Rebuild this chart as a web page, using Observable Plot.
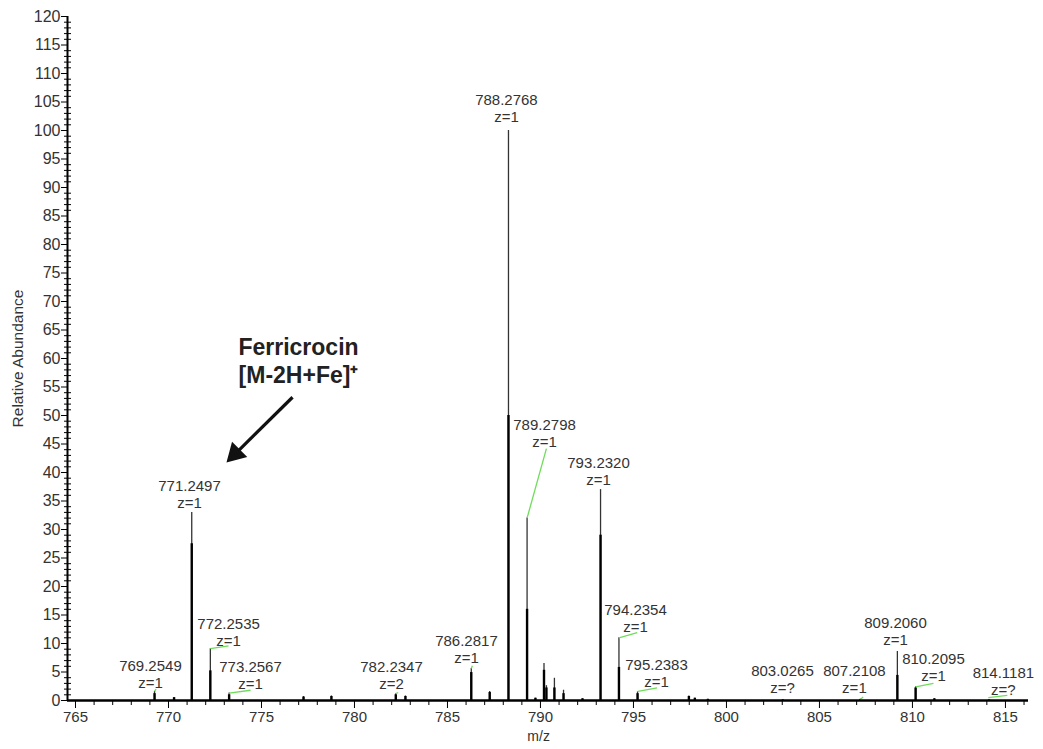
<!DOCTYPE html>
<html><head><meta charset="utf-8">
<script src="https://cdn.jsdelivr.net/npm/d3@7"></script>
<script src="https://cdn.jsdelivr.net/npm/@observablehq/plot@0.6"></script>
<style>html,body{margin:0;padding:0;background:#fff}#chart svg{display:block}</style>
</head><body><div id="chart"></div>
<script>
// ---- Spectrum sticks (m/z, apex abundance, dense core abundance) ----
const peakMz   = [769.25, 770.30, 771.25, 772.25, 773.26, 777.26, 778.76, 782.22, 782.74, 786.28, 787.27, 788.28, 789.28, 789.73, 790.19, 790.32, 790.75, 791.24, 792.26, 793.23, 794.22, 795.22, 797.98, 798.30, 799.00, 803.03, 807.21, 809.19, 810.17, 811.18, 814.12];
const peakTop  = [1.6, 0.5, 33.0, 9.1, 1.3, 0.7, 0.8, 1.2, 0.8, 5.6, 1.6, 100.0, 32.0, 0.4, 6.5, 2.6, 3.9, 1.8, 0.3, 37.0, 11.0, 1.5, 0.8, 0.4, 0.2, 0.1, 0.2, 8.6, 2.4, 0.3, 0.1];
const peakCore = [1.2, 0.5, 27.5, 5.2, 1.0, 0.6, 0.7, 1.0, 0.7, 4.9, 1.4, 50.0, 16.0, 0.4, 5.3, 2.2, 2.2, 1.2, 0.3, 29.0, 5.8, 1.2, 0.7, 0.4, 0.2, 0.1, 0.2, 4.4, 2.2, 0.3, 0.1];

// ---- Peak labels ----
const labelMass   = ["769.2549", "771.2497", "772.2535", "773.2567", "782.2347", "786.2817", "788.2768", "789.2798", "793.2320", "794.2354", "795.2383", "803.0265", "807.2108", "809.2060", "810.2095", "814.1181"];
const labelCharge = ["z=1", "z=1", "z=1", "z=1", "z=2", "z=1", "z=1", "z=1", "z=1", "z=1", "z=1", "z=?", "z=1", "z=1", "z=1", "z=?"];
const labelMz     = [769.03, 771.13, 773.23, 774.41, 781.99, 786.02, 788.17, 790.22, 793.12, 795.11, 796.24, 803.01, 806.88, 809.09, 811.13, 814.89];
const labelAbund  = [2.98, 34.6, 10.35, 2.8, 2.8, 7.37, 102.3, 45.3, 38.6, 12.8, 3.16, 2.1, 2.1, 10.5, 4.2, 1.75];

// ---- Green leader lines (peak apex -> label) ----
const leaderFromMz = [769.25, 772.25, 773.26, 782.22, 786.28, 789.28, 794.22, 795.24, 807.21, 810.17, 814.08];
const leaderFromY  = [1.6, 9.1, 1.3, 1.2, 5.6, 32.0, 11.0, 1.6, 0.2, 2.4, 0.5];
const leaderToMz   = [769.33, 773.23, 774.41, 782.35, 786.34, 790.32, 795.20, 796.27, 807.35, 811.13, 815.10];
const leaderToY    = [2.0, 9.6, 1.8, 1.4, 6.1, 44.2, 11.9, 2.2, 0.6, 3.0, 0.9];

// ---- Annotation ----
const noteLines = ["Ferricrocin", "[M-2H+Fe]\u207A"];
const noteMz = 776.99;
const noteY = [61.9, 57.0];
const arrowFrom = [776.67, 53.2];
const arrowHead = [773.59, 43.28];

// ---- Axes ----
const xDomain = [764.57, 816.24];
const yDomain = [0, 120];
const xMajor = d3.range(765, 816, 5);
const xMinor = d3.range(765, 817, 1).filter(v => v % 5 !== 0);
const yMajor = d3.range(0, 121, 5);
const yMinor = d3.range(0, 121, 1).filter(v => v % 5 !== 0);

const peaks = peakMz.map((mz, i) => ({mz, top: peakTop[i], core: peakCore[i]}));
const labels = labelMass.map((m, i) => ({mass: m, z: labelCharge[i], x: labelMz[i], y: labelAbund[i]}));
const leaders = leaderFromMz.map((m, i) => ({x1: m, y1: leaderFromY[i], x2: leaderToMz[i], y2: leaderToY[i]}));
const notes = noteLines.map((t, i) => ({t, x: noteMz, y: noteY[i]}));

const font = "Liberation Sans, Arial, Helvetica, sans-serif";

const chart = Plot.plot({
  width: 1043,
  height: 749,
  marginLeft: 67,
  marginRight: 15,
  marginTop: 16,
  marginBottom: 49,
  style: {fontFamily: font, background: "#fff", color: "#333"},
  x: {domain: xDomain},
  y: {domain: yDomain},
  marks: [
    Plot.axisX({ticks: xMajor, tickSize: 8, tickPadding: 3, fontSize: 15, label: null, stroke: "#000", fill: "#333"}),
    Plot.axisX({ticks: xMinor, tickSize: 5, text: null, label: null, stroke: "#000"}),
    Plot.axisY({ticks: yMajor, tickSize: 6, tickPadding: 1, fontSize: 16, label: null, stroke: "#000", fill: "#333"}),
    Plot.axisY({ticks: yMinor, tickSize: 7, dx: 4, text: null, label: null, stroke: "#000"}),
    Plot.ruleX([xDomain[0]], {y1: 0, y2: 120, stroke: "#000", strokeWidth: 2}),
    Plot.ruleX(peaks, {x: "mz", y1: 0, y2: "top", stroke: "#333", strokeWidth: 1.3}),
    Plot.ruleX(peaks, {x: "mz", y1: 0, y2: "core", stroke: "#000", strokeWidth: 2.4}),
    Plot.ruleY([0], {stroke: "#000", strokeWidth: 2.5}),
    Plot.link(leaders, {x1: "x1", y1: "y1", x2: "x2", y2: "y2", stroke: "#6fdc5a", strokeWidth: 1.3}),
    Plot.text(labels, {x: "x", y: "y", text: "mass", dy: -17, fontSize: 15, fill: "#333"}),
    Plot.text(labels, {x: "x", y: "y", text: "z", fontSize: 15, fill: "#333"}),
    Plot.text(notes, {x: "x", y: "y", text: "t", fontSize: 23, fontWeight: "bold", fill: "#222"}),
    Plot.link([{x1: arrowFrom[0], y1: arrowFrom[1], x2: arrowHead[0], y2: arrowHead[1]}], {x1: "x1", y1: "y1", x2: "x2", y2: "y2", stroke: "#111", strokeWidth: 3.2}),
    Plot.dot([{x: arrowHead[0], y: arrowHead[1]}], {x: "x", y: "y", symbol: "triangle", r: 8, fill: "#111", stroke: "none", rotate: 225}),
    Plot.text(["Relative Abundance"], {frameAnchor: "left", textAnchor: "middle", dx: -49, rotate: -90, fontSize: 15.5, fill: "#333"}),
    Plot.text(["m/z"], {x: [789.9], frameAnchor: "bottom", dy: 40, fontSize: 14, fill: "#333"})
  ]
});
document.getElementById("chart").appendChild(chart);
</script>
</body></html>
